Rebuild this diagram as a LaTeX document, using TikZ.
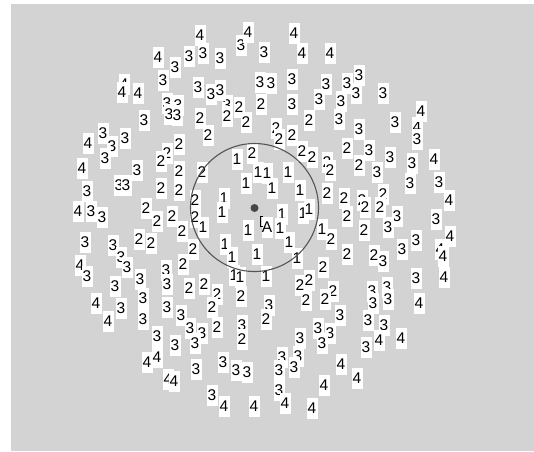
\documentclass[tikz,border=0pt]{standalone}
\usepackage{fontspec}
\setmainfont{Liberation Sans}
\definecolor{bggray}{RGB}{211,211,211}
\definecolor{ringgray}{RGB}{85,85,85}
\definecolor{dotgray}{RGB}{70,70,70}
\begin{document}
\begin{tikzpicture}[x=1pt,y=-1pt,
  lab/.style={fill=white, inner sep=0pt, minimum width=11pt, minimum height=21pt,
    font=\fontsize{15.5}{15.5}\selectfont, text=black},
  ringstyle/.style={circle, draw=ringgray, line width=1.1pt, minimum size=128pt, inner sep=0pt},
  dotstyle/.style={circle, fill=dotgray, minimum size=8pt, inner sep=0pt}]
\fill[white] (0,0) rectangle (534,451);
\useasboundingbox (0,0) rectangle (534,451);
\fill[bggray] (11,4) rectangle (534,451);
% partly hidden labels (drawn first)
\foreach \d/\x/\y [count=\i] in {4/124/84, 3/167/103, 3/178/105, 3/227/105, 4/417/127,
  2/276/128, 2/167/153, 2/327/162, 2/383/194, 2/362/200, 2/195/217, 4/440/249,
  4/80/265, 3/166/270, 3/372/291, 3/242/325, 3/269/305, 3/282/357, 3/298/356,
  3/279/390, 4/168/379, 2/217/294}
  \node[lab] (h\i) at (\x,\y) {\d};
% visible labels
\foreach \d/\x/\y [count=\i] in {4/200/35, 3/241/45, 4/248/32, 3/264/52, 4/294/33,
  4/302/53, 4/330/53, 4/158/57, 3/189/56, 3/203/53, 3/220/58, 3/175/67, 3/163/80,
  4/122/92, 4/138/93, 3/198/87, 3/211/94, 3/220/90, 3/260/82, 3/271/83, 3/292/79,
  3/292/104, 3/326/84, 3/347/83, 3/359/75, 3/356/93, 3/319/99, 3/341/101, 3/383/93,
  3/169/114, 3/177/115, 2/227/116, 2/239/107, 2/246/122, 2/261/104, 2/200/118,
  2/208/135, 3/144/120, 4/88/143, 3/103/133, 3/112/146, 3/105/158, 3/125/138,
  2/309/120, 3/339/119, 3/359/129, 3/395/122, 4/421/111, 3/417/139, 2/279/139,
  2/292/135, 2/347/148, 3/369/150, 3/390/157, 4/434/159, 3/412/163, 2/302/151,
  2/312/157, 2/179/144, 2/161/161, 1/237/159, 2/252/153,
  4/82/168, 3/137/170, 2/179/171, 2/202/172, 1/258/172, 1/267/173, 1/288/172,
  1/246/183, 1/272/188, 1/300/190, 2/330/170, 2/359/165, 3/377/172, 3/410/183,
  3/439/182, 3/87/191, 3/119/185, 3/126/185, 2/161/188, 2/179/190, 2/195/200,
  1/224/198, 1/222/212, 2/327/193, 2/344/198, 2/365/207, 2/380/207, 4/449/200,
  4/78/211, 3/91/211, 3/102/217, 2/146/208, 2/157/221, 2/172/216, 2/182/231,
  1/203/227, 1/248/230, 1/282/214, 1/280/228, 1/303/213, 1/309/209, 1/322/229,
  2/331/239, 2/347/216, 3/397/216, 3/388/227, 3/436/219, 2/364/230, 4/450/236,
  3/416/240, 3/402/249, 1/289/242, 3/85/242, 2/139/239, 2/151/243, 3/113/245,
  3/121/257, 3/127/267, 2/193/249, 1/225/244, 1/232/257, 1/257/254, 1/297/258,
  2/347/254, 2/374/255, 3/383/261, 4/443/256, 3/87/276, 2/183/264, 3/167/284,
  2/323/267, 3/416/278, 4/444/277, 1/234/275, 1/240/277, 1/266/276, 2/300/285,
  2/309/280, 3/140/279, 3/115/286, 2/189/288, 2/204/284, 2/212/307, 2/241/296,
  2/333/291, 2/325/299, 2/306/300, 3/373/303, 3/387/287, 3/388/299, 4/419/303,
  3/143/298, 3/143/319, 4/96/303, 3/121/308, 4/108/321, 3/167/307, 3/181/315,
  3/190/328, 3/202/333, 3/195/343, 2/217/327, 2/242/339, 2/266/319, 3/157/336,
  3/175/345, 4/147/362, 4/157/357, 3/196/369, 3/223/362, 3/236/370, 3/247/372,
  4/174/381, 3/212/395, 4/224/406, 4/254/406, 3/279/370, 3/294/367, 4/285/403,
  3/300/338, 3/340/315, 3/368/320, 3/384/325, 3/318/328, 3/330/333, 3/322/343,
  3/366/347, 4/379/340, 4/401/338, 4/341/364, 4/357/378, 4/324/385, 4/312/408}
  \node[lab] (n\i) at (\x,\y) {\d};
\node[lab] (labA) at (267,227) {A};
\node[ringstyle] (ring) at (254.5,207.5) {};
\node[dotstyle] (dot) at (254.5,208) {};
\draw[black, line width=0.8pt] ([xshift=2pt]labA.north west) -- ++(-2.5,0) -- ++(0,10) -- ++(2.5,0);
\end{tikzpicture}
\end{document}
